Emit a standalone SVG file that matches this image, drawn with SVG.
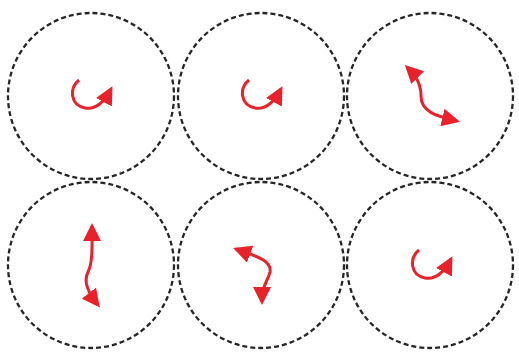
<svg xmlns="http://www.w3.org/2000/svg" width="519" height="352" viewBox="0 0 519 352">
<defs>
<style>
.ring{fill:none;stroke:#262626;stroke-width:2.3;stroke-dasharray:5 3}
.arr{fill:none;stroke:#e8212b;stroke-width:3;marker-end:url(#ah)}
.arr2{fill:none;stroke:#e8212b;stroke-width:3;marker-start:url(#ah);marker-end:url(#ah)}
</style>
<marker id="ah" markerUnits="userSpaceOnUse" viewBox="0 0 18 18" refX="15" refY="9" markerWidth="18" markerHeight="18" orient="auto-start-reverse">
<path d="M0,0 L18,9 L0,18 Z" fill="#e8212b"/>
</marker>
</defs>
<g id="n1">
<circle class="ring" cx="91" cy="96" r="83"/>
<path class="arr" d="M79,80 C69,88 70,105 85,108 C95,110 103,104 111,89"/>
</g>
<g id="n2">
<circle class="ring" cx="261" cy="96" r="83"/>
<path class="arr" transform="translate(170,0)" d="M79,80 C69,88 70,105 85,108 C95,110 103,104 111,89"/>
</g>
<g id="n3">
<circle class="ring" cx="430" cy="96" r="83"/>
<path class="arr2" d="M407,67 C416,76 421,84 421,96 C421,112 436,116 457,121"/>
</g>
<g id="n4">
<circle class="ring" cx="91" cy="265" r="83"/>
<path class="arr2" d="M92,226 C92,245 93,262 88,272 C83,282 88,292 98,305"/>
</g>
<g id="n5">
<circle class="ring" cx="261" cy="265" r="83"/>
<path class="arr2" d="M236,249 C255,256 272,260 270,272 C268,281 262,284 262,302"/>
</g>
<g id="n6">
<circle class="ring" cx="430" cy="265" r="83"/>
<path class="arr" transform="translate(340,170)" d="M79,80 C69,88 70,105 85,108 C95,110 103,104 111,89"/>
</g>
</svg>
